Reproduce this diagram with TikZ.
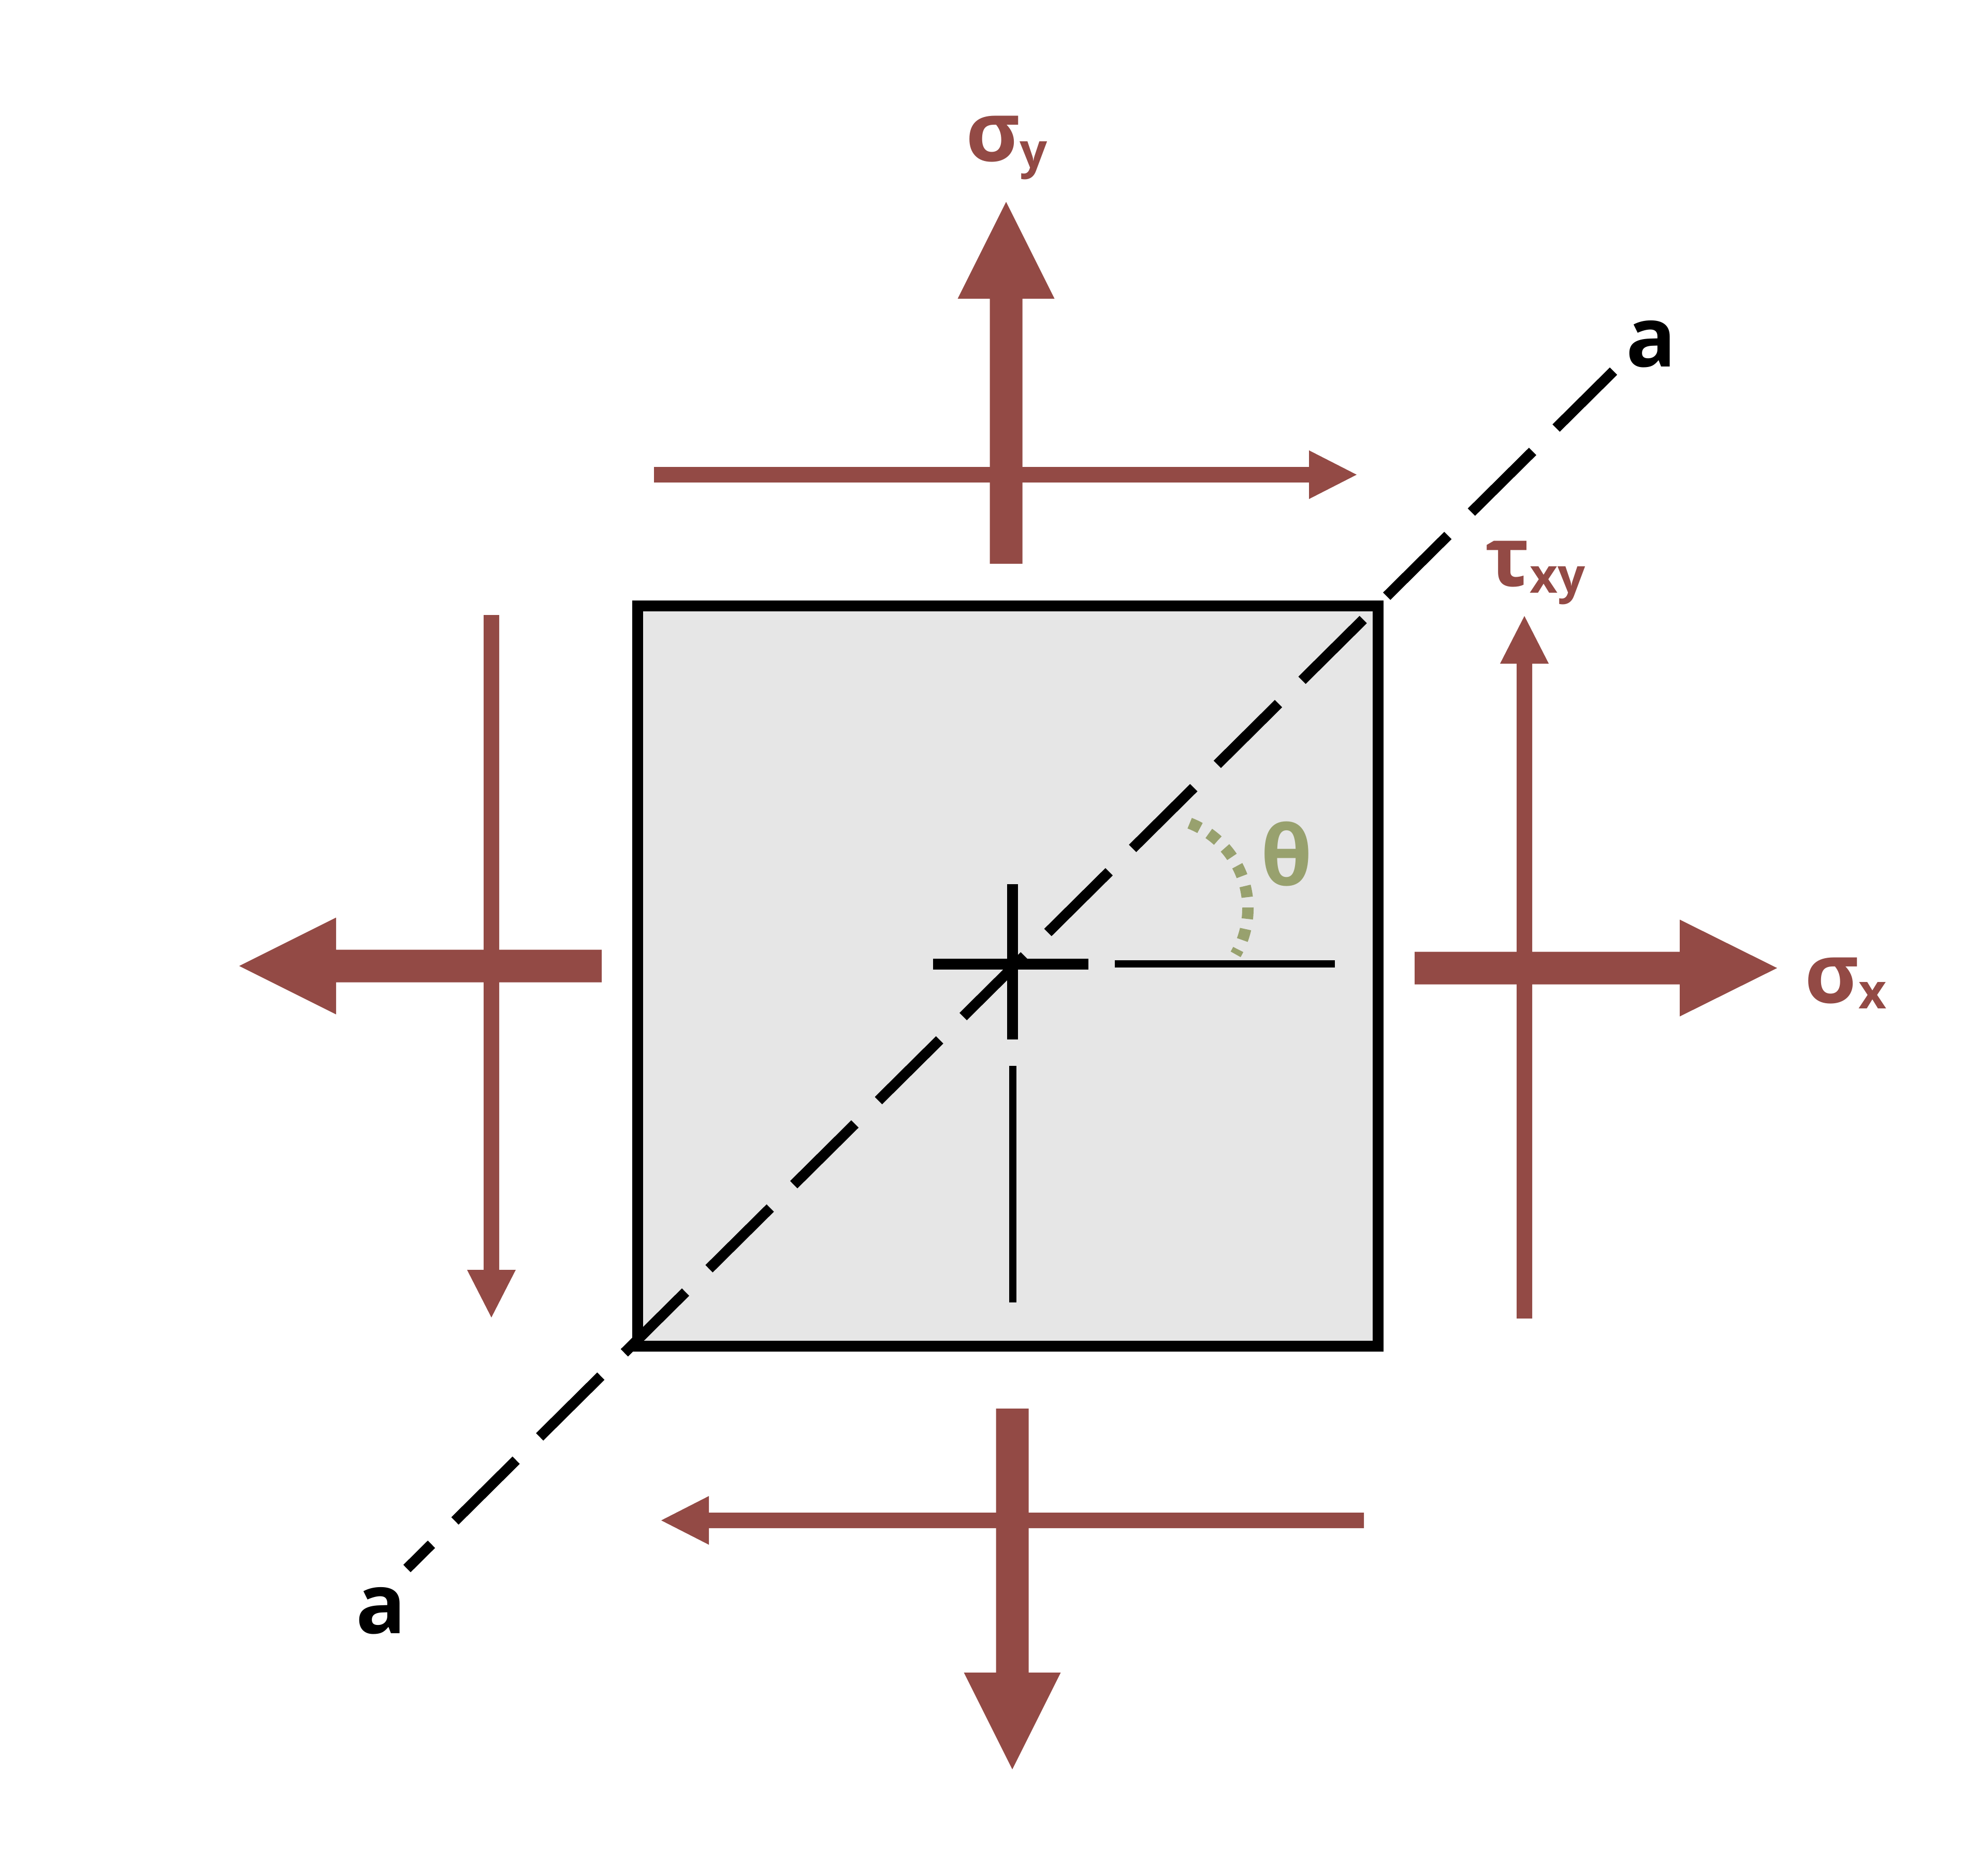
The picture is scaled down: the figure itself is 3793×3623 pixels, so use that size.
\documentclass[tikz,border=0pt]{standalone}
\usepackage{fontspec}
\setmainfont{Open Sans}
\definecolor{arr}{HTML}{934A45}
\definecolor{thg}{HTML}{98A16E}
\definecolor{boxg}{HTML}{E6E6E6}
\tikzset{
  lbl/.style={anchor=base west, inner sep=0pt, outer sep=0pt, font=\bfseries\fontsize{32}{38}\selectfont},
  edgeline/.style={line width=4.2pt, draw=black},
  thinline/.style={line width=2.8pt, draw=black},
  axisdash/.style={line width=4pt, draw=black, dash pattern=on 33.3pt off 12.8pt, dash phase=20pt},
  angdots/.style={line width=4.4pt, draw=thg, dash pattern=on 4.4pt off 4pt}
}
\newcommand{\subtxt}[2]{\raisebox{-#1}{\bfseries\fontsize{18.7}{22}\selectfont #2}}
\begin{document}
\begin{tikzpicture}[x=0.2pt,y=-0.2pt]
\useasboundingbox (0,0) rectangle (3793,3623);
% thin shear arrows
\fill[arr] (1263,902) -- (2528,902) -- (2528,870) -- (2620,917) -- (2528,964) -- (2528,932) -- (1263,932) -- cycle;
\fill[arr] (2634,2922) -- (1369,2922) -- (1369,2890) -- (1277,2937) -- (1369,2984) -- (1369,2952) -- (2634,2952) -- cycle;
\fill[arr] (934,1188) -- (934,2453) -- (902,2453) -- (949,2545) -- (996,2453) -- (964,2453) -- (964,1188) -- cycle;
\fill[arr] (2929,2547) -- (2929,1282) -- (2897,1282) -- (2944,1190) -- (2991,1282) -- (2959,1282) -- (2959,2547) -- cycle;
% thick normal arrows
\fill[arr] (1911.5,1089) -- (1911.5,577) -- (1849.5,577) -- (1943,390) -- (2036.5,577) -- (1974.5,577) -- (1974.5,1089) -- cycle;
\fill[arr] (1923.5,2721) -- (1923.5,3231) -- (1861.5,3231) -- (1955,3418) -- (2048.5,3231) -- (1986.5,3231) -- (1986.5,2721) -- cycle;
\fill[arr] (1162,1834.5) -- (649,1834.5) -- (649,1772.5) -- (462,1866) -- (649,1959.5) -- (649,1897.5) -- (1162,1897.5) -- cycle;
\fill[arr] (2732,1838.5) -- (3244,1838.5) -- (3244,1776.5) -- (3432,1870) -- (3244,1963.5) -- (3244,1901.5) -- (2732,1901.5) -- cycle;
% element
\draw[edgeline, fill=boxg] (1231,1170.5) rectangle (2661,2600.5);
% crosshair and reference lines
\draw[edgeline] (1955.5,1708) -- (1955.5,2008);
\draw[edgeline] (1802,1862) -- (2102,1862);
\draw[thinline] (2153,1862) -- (2578,1862);
\draw[thinline] (1955.5,2059) -- (1955.5,2516);
% inclined plane a-a
\coordinate (aL) at (786,3030);
\coordinate (aU) at (3116,717);
\draw[axisdash] (aL) -- (aU);
% angle
\coordinate (ac) at (2233,1755);
\draw[angdots] (ac) ++(-68.6:177) arc[start angle=-68.6, end angle=30, radius=177];
% labels
\node[lbl, text=arr] (sy) at (1865,312) {σ\subtxt{2.6pt}{y}};
\node[lbl, text=arr] (sx) at (3485,1937) {σ\subtxt{2.2pt}{x}};
\node[lbl, text=arr] (txy) at (2868,1132) {τ\subtxt{2.6pt}{xy}};
\node[lbl, text=thg] (th) at (2435,1710) {θ};
\node[lbl] (a1) at (687,3155) {a};
\node[lbl] (a2) at (3140,708) {a};
\end{tikzpicture}
\end{document}
